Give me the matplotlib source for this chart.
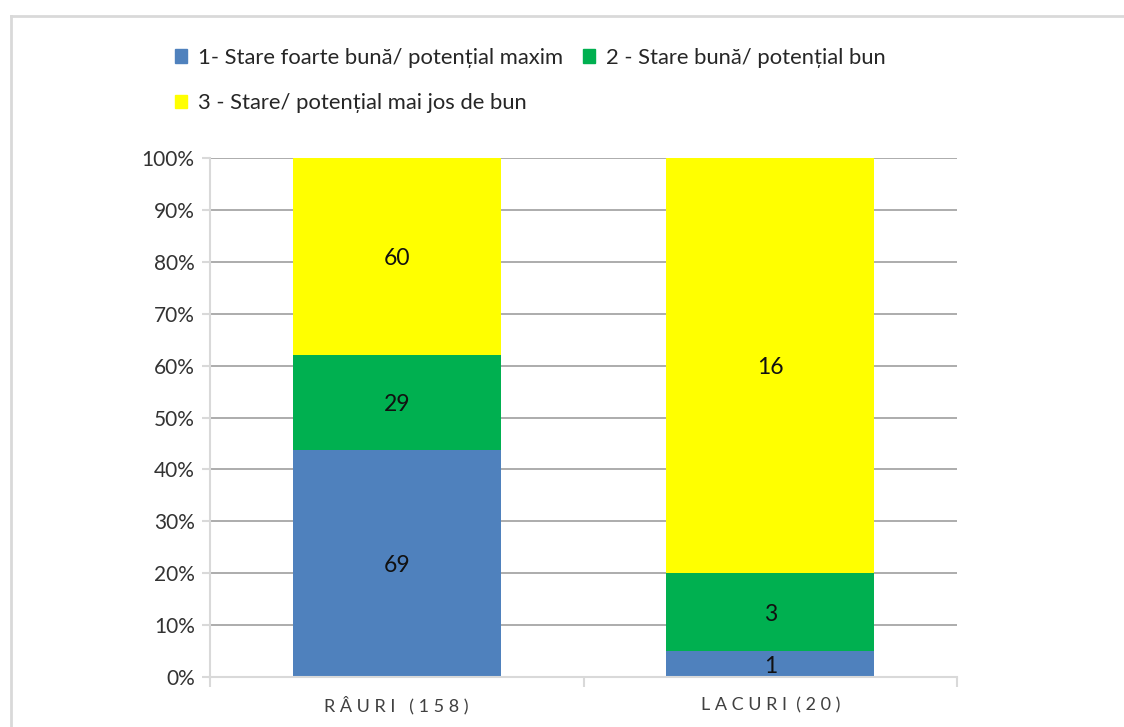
# 100% stacked bars: stare ecologica rauri / lacuri
import numpy as np
import matplotlib.pyplot as plt
from matplotlib.lines import Line2D
from matplotlib.patches import Patch

plt.rcParams['font.family'] = ['Lato', 'DejaVu Sans']

categories = ['R Â U R I   ( 1 5 8 )', 'L A C U R I  ( 2 0 )']
series = ['1- Stare foarte bună/ potențial maxim',
          '2 - Stare bună/ potențial bun',
          '3 - Stare/ potențial mai jos de bun']
foarte_buna = [69, 1]
buna = [29, 3]
sub_bun = [60, 16]
colors = ['#4f81bd', '#00b050', '#ffff00']

vals = np.array([foarte_buna, buna, sub_bun], dtype=float)
totals = vals.sum(axis=0)
pct = vals / totals * 100

fig = plt.figure(figsize=(11.24, 7.27), dpi=100)
ax = fig.add_axes([210/1124, 1 - 677/727, (957-210)/1124, (677-158)/727])

x = np.arange(len(categories))
bottom = np.zeros(len(categories))
for i in range(3):
    ax.bar(x, pct[i], 0.557, bottom=bottom, color=colors[i], zorder=2)
    for j in range(len(categories)):
        ax.text(x[j], bottom[j] + pct[i][j] / 2, '%d' % vals[i][j],
                ha='center', va='center_baseline', fontsize=16.5, color='#111111', zorder=3)
    bottom += pct[i]

ax.set_xlim(-0.5, 1.5)
ax.set_ylim(0, 100)
ax.set_yticks(np.arange(0, 101, 10))
ax.set_yticklabels(['%d%%' % v for v in range(0, 101, 10)])
ax.yaxis.grid(True, color='#a6a6a6', linewidth=1.3, zorder=0)
ax.set_axisbelow(True)
for s in ['top', 'right']:
    ax.spines[s].set_visible(False)
ax.spines['left'].set_color('#d9d9d9')
ax.spines['bottom'].set_color('#d9d9d9')
ax.spines['left'].set_linewidth(1.5)
ax.spines['bottom'].set_linewidth(1.5)
ax.tick_params(axis='y', colors='#d9d9d9', labelcolor='#333333', labelsize=15,
               length=6, width=1.5, pad=5)
ax.set_xticks([-0.5, 0.5, 1.5], minor=False)
ax.set_xticklabels([])
ax.tick_params(axis='x', colors='#d9d9d9', length=7, width=1.5)
for j, c in enumerate(categories):
    ax.text(x[j], -5.5, c, ha='center', va='center', fontsize=13, color='#404040',
            transform=ax.transData)

# legend (order so that column 1 holds items 1 and 3)
handles = [Patch(color=c) for c in colors]
order = [0, 2, 1]
fig.legend([handles[k] for k in order], [series[k] for k in order],
           ncol=2, loc='upper left', bbox_to_anchor=(155/1124, 1 - 28/727),
           frameon=False, fontsize=15.8, handlelength=0.55, handleheight=0.55,
           handletextpad=0.5, labelspacing=1.15, columnspacing=0.9,
           labelcolor='#262626')

# chart frame
fig.add_artist(Line2D([11/1124, 1.0], [1 - 16/727, 1 - 16/727],
                      color='#d9d9d9', linewidth=2, transform=fig.transFigure))
fig.add_artist(Line2D([11/1124, 11/1124], [0, 1 - 16/727],
                      color='#d9d9d9', linewidth=2, transform=fig.transFigure))

fig.savefig('out.png', dpi=100)
